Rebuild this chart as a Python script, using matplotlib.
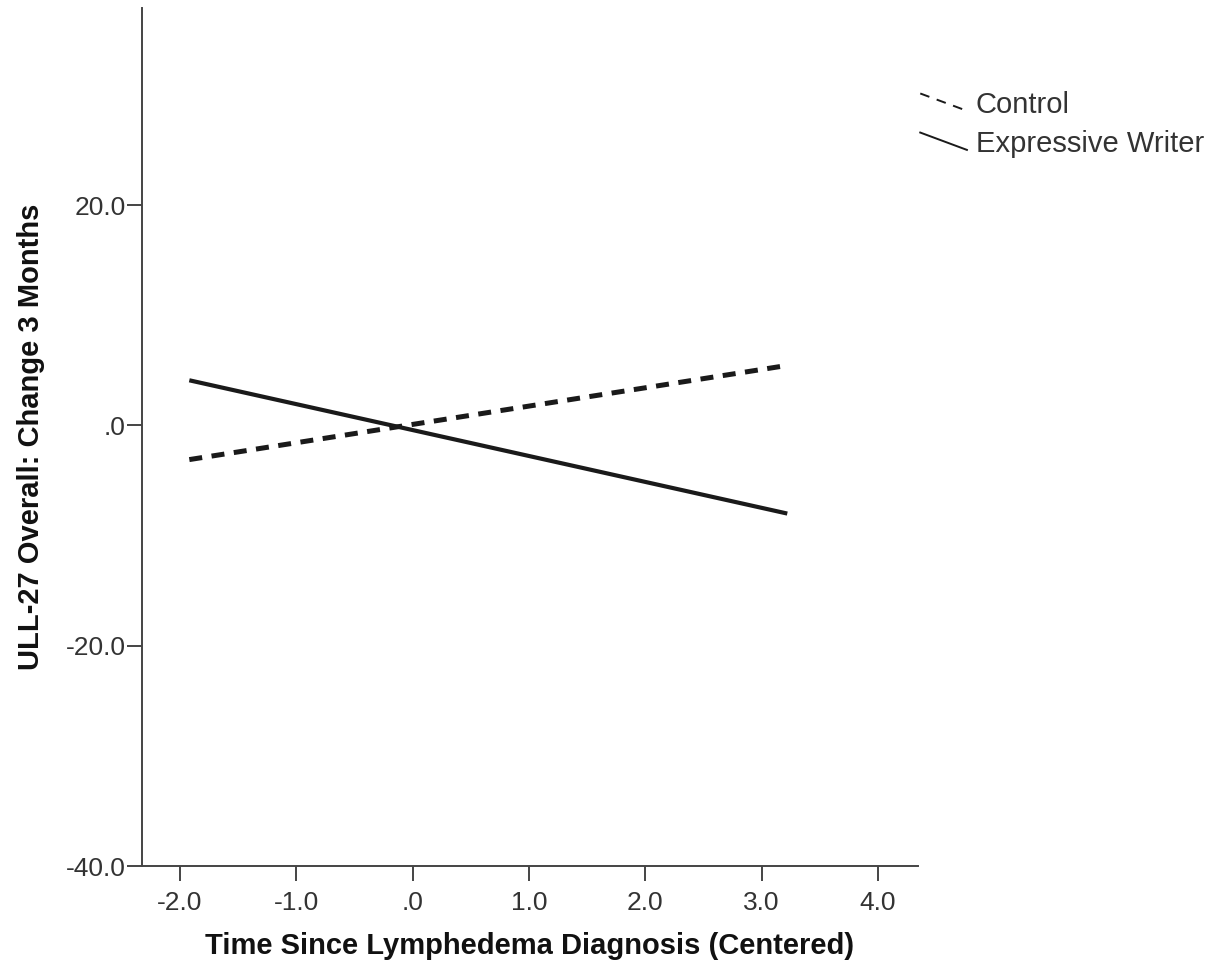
import matplotlib

matplotlib.use("Agg")

import matplotlib.pyplot as plt
from matplotlib.legend_handler import HandlerBase
from matplotlib.lines import Line2D

# fitted lines: endpoints of the observed range of the predictor
time_centered = [-1.92, 3.22]
control = [-3.1, 5.45]
expressive = [4.1, -8.0]

x_ticks = [-2.0, -1.0, 0.0, 1.0, 2.0, 3.0, 4.0]
x_labels = ["-2.0", "-1.0", ".0", "1.0", "2.0", "3.0", "4.0"]
y_ticks = [-40.0, -20.0, 0.0, 20.0]
y_labels = ["-40.0", "-20.0", ".0", "20.0"]

GREY = "#444444"
TEXT = "#333333"
INK = "#1a1a1a"

plt.rcParams["font.family"] = ["Liberation Sans", "DejaVu Sans"]


class DiagonalHandler(HandlerBase):
    """SPSS-style legend key: a short descending diagonal stroke."""

    def create_artists(self, legend, orig_handle, xdescent, ydescent,
                       width, height, fontsize, trans):
        x0, x1 = -xdescent, -xdescent + width
        y0, y1 = -ydescent + height * 0.95, -ydescent + height * 0.1
        dashed = orig_handle.get_linestyle() not in ("-", "solid")
        line = Line2D([x0, x1], [y0, y1], color=orig_handle.get_color(),
                      linewidth=1.4, linestyle=(0, (5, 4)) if dashed else "-")
        line.set_transform(trans)
        return [line]


fig = plt.figure(figsize=(12.27, 9.77), dpi=100)
ax = fig.add_axes([0.1157, 0.1136, 0.6325, 0.8782])

l_ctrl, = ax.plot(time_centered, control, color=INK, lw=3.6,
                  linestyle=(0, (2.6, 1.9)), dash_capstyle="butt", label="Control")
l_expr, = ax.plot(time_centered, expressive, color=INK, lw=3.0,
                  solid_capstyle="butt", label="Expressive Writer")

ax.set_xlim(-2.327, 4.344)
ax.set_ylim(-40.0, 37.9)
ax.set_xticks(x_ticks)
ax.set_xticklabels(x_labels)
ax.set_yticks(y_ticks)
ax.set_yticklabels(y_labels)

for side in ("top", "right"):
    ax.spines[side].set_visible(False)
for side in ("left", "bottom"):
    ax.spines[side].set_color(GREY)
    ax.spines[side].set_linewidth(1.4)

ax.tick_params(axis="both", direction="out", length=11, width=1.4, color=GREY,
               labelsize=19, labelcolor=TEXT)
ax.tick_params(axis="x", pad=7)
ax.tick_params(axis="y", pad=0.5)

ax.set_xlabel("Time Since Lymphedema Diagnosis (Centered)", fontsize=21,
              fontweight="bold", color="#111111", labelpad=12)
ax.set_ylabel("ULL-27 Overall: Change 3 Months", fontsize=21,
              fontweight="bold", color="#111111", labelpad=15)

ax.legend(handles=[l_ctrl, l_expr], loc="upper left",
          bbox_to_anchor=(0.75, 0.907), bbox_transform=fig.transFigure,
          frameon=False, fontsize=21, handlelength=1.6, handletextpad=0.3,
          labelspacing=0.38, borderpad=0, borderaxespad=0,
          labelcolor=TEXT, handler_map={Line2D: DiagonalHandler()})

fig.savefig("out.png", dpi=100)
